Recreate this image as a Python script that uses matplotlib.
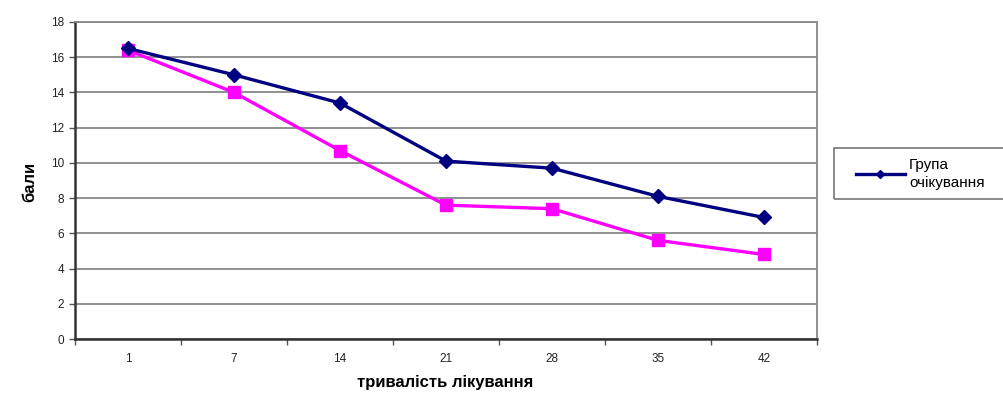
import matplotlib.pyplot as plt
from matplotlib.patches import Rectangle

plt.rcParams['font.family'] = ['Liberation Sans', 'DejaVu Sans']

days = ["1", "7", "14", "21", "28", "35", "42"]
waiting_group = [16.5, 15.0, 13.4, 10.1, 9.7, 8.1, 6.9]
treated_group = [16.4, 14.0, 10.7, 7.6, 7.4, 5.6, 4.8]

W, H = 1004, 400
fig = plt.figure(figsize=(W/100, H/100), dpi=100)
ax = fig.add_axes([75/W, 1-339/H, (817-75)/W, (339-22)/H])

x = list(range(len(days)))
ax.plot(x, treated_group, color="#FF00FF", lw=2.4, marker="s", ms=9, zorder=3)
ax.plot(x, waiting_group, color="#000080", lw=2.4, marker="D", ms=7.5, zorder=4,
        label="Група\nочікування")

ax.set_xlim(-0.5, len(days)-0.5)
ax.set_ylim(0, 18)
ax.set_yticks(range(0, 19, 2))
ax.set_xticks([i - 0.5 for i in range(len(days)+1)], minor=False)
ax.set_xticklabels([])
ax.set_xticks(x, minor=True)
ax.set_xticklabels(days, minor=True)
ax.tick_params(axis="x", which="minor", length=0, pad=10, labelsize=8.5, colors="#222222")
ax.tick_params(axis="x", which="major", length=4, width=1, color="#555555", direction="out")
ax.tick_params(axis="y", length=4, width=1, color="#555555", labelsize=8.5, labelcolor="#222222", pad=4)

ax.grid(axis="y", color="#888888", lw=1.3)
ax.set_axisbelow(True)
for s in ["top", "right"]:
    ax.spines[s].set_color("#888888")
    ax.spines[s].set_linewidth(1.3)
for s in ["left", "bottom"]:
    ax.spines[s].set_color("#333333")
    ax.spines[s].set_linewidth(1.8)

fig.text(445/W, 1-383/H, "тривалість лікування", ha="center", va="center",
         fontsize=12, fontweight="bold")
fig.text(30/W, 1-182/H, "бали", ha="center", va="center", rotation=90,
         fontsize=12, fontweight="bold")

fig.patches.append(Rectangle((834/W, 1-199/H), 200/W, 51/H, transform=fig.transFigure,
                             fill=False, edgecolor="#777777", lw=1.2))
leg = fig.legend(loc="center left", bbox_to_anchor=(848/W, 1-174/H), frameon=False,
                 fontsize=11, handlelength=3.2, handletextpad=0.3, borderpad=0,
                 markerscale=0.5)
for t in leg.get_texts():
    t.set_linespacing(1.35)

fig.savefig("out.png", dpi=100)
